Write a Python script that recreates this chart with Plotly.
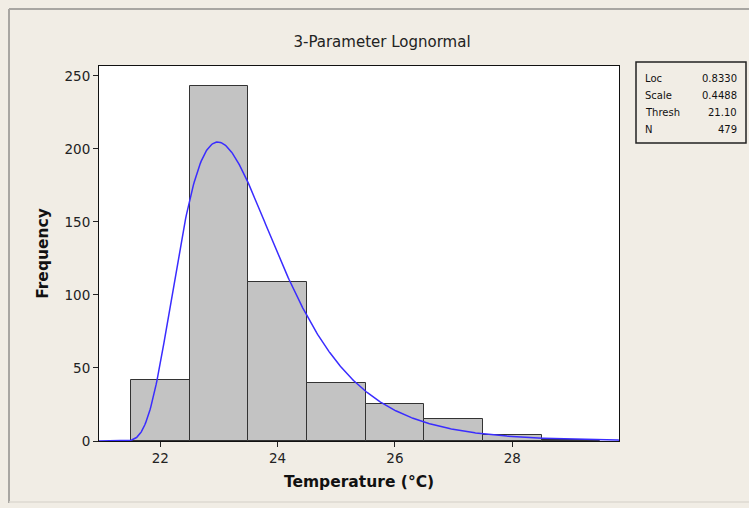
import numpy as np
import plotly.graph_objects as go

# ---- data ----
bin_centers = [22, 23, 24, 25, 26, 27, 28, 29]
frequencies = [42, 243, 109, 40, 25, 15, 4, 1]
bin_width = 1.0

fit_loc = 0.8330
fit_scale = 0.4488
fit_thresh = 21.10
n_obs = 479

stat_labels = ["Loc", "Scale", "Thresh", "N"]
stat_values = ["0.8330", "0.4488", "21.10", "479"]

x_ticks = [22, 24, 26, 28]
y_ticks = [0, 50, 100, 150, 200, 250]

# ---- fitted 3-parameter lognormal curve (from displayed parameters) ----
xs = np.linspace(20.95, 29.82, 600)
z = np.clip(xs - fit_thresh, 1e-12, None)
pdf = np.where(xs > fit_thresh,
               np.exp(-(np.log(z) - fit_loc) ** 2 / (2 * fit_scale ** 2))
               / (z * fit_scale * np.sqrt(2 * np.pi)), 0.0)
ys = pdf * n_obs * bin_width

BG = "#f1ede5"
FONT = "DejaVu Sans"

fig = go.Figure()
fig.add_trace(go.Bar(
    x=bin_centers, y=frequencies, width=bin_width,
    marker=dict(color="#c3c3c3", line=dict(color="#333333", width=1)),
    showlegend=False, hoverinfo="x+y"))
fig.add_trace(go.Scatter(
    x=xs, y=ys, mode="lines", line=dict(color="#3a2cff", width=1.5),
    showlegend=False))

# page coordinates helpers (plot area: x 99..619, y 66..441 px)
L, R, T, B = 99, 619, 66, 441
def px(xp):
    return (xp - L) / (R - L)
def py(yp):
    return (B - yp) / (B - T)

shapes = [
    # outer frame (left/top visible, bottom faint)
    dict(type="line", xref="paper", yref="paper",
         x0=px(9), x1=px(800), y0=py(9), y1=py(9),
         line=dict(color="#a8a6a2", width=2), layer="below"),
    dict(type="line", xref="paper", yref="paper",
         x0=px(9), x1=px(9), y0=py(9), y1=py(503),
         line=dict(color="#a8a6a2", width=2), layer="below"),
    dict(type="line", xref="paper", yref="paper",
         x0=px(9), x1=px(800), y0=py(502), y1=py(502),
         line=dict(color="#dcd8d0", width=1.5), layer="below"),
    # stats box
    dict(type="rect", xref="paper", yref="paper",
         x0=px(636), x1=px(746), y0=py(143), y1=py(62),
         line=dict(color="#222222", width=1.5), fillcolor=BG),
]

annotations = []
row_y = [78, 95, 112, 129]
for lab, val, yy in zip(stat_labels, stat_values, row_y):
    annotations.append(dict(xref="paper", yref="paper", x=px(643), y=py(yy),
                            text=lab, showarrow=False, xanchor="left", yanchor="middle",
                            font=dict(family=FONT, size=10, color="#111111")))
    annotations.append(dict(xref="paper", yref="paper", x=px(739), y=py(yy),
                            text=val, showarrow=False, xanchor="right", yanchor="middle",
                            font=dict(family=FONT, size=10, color="#111111")))

fig.update_layout(
    width=749, height=508,
    margin=dict(l=L, r=749 - R, t=T, b=508 - B, pad=0),
    paper_bgcolor=BG, plot_bgcolor="white",
    bargap=0,
    title=dict(text="3-Parameter Lognormal", x=382 / 749, xref="container",
               y=1 - 42 / 508, yref="container", xanchor="center", yanchor="middle",
               font=dict(family=FONT, size=15, color="#222222")),
    font=dict(family=FONT, size=13, color="#222222"),
    shapes=shapes, annotations=annotations,
    xaxis=dict(range=[20.955, 29.82], tickvals=x_ticks, ticks="outside", ticklen=5,
               tickcolor="#222222", showline=True, linecolor="#111111", linewidth=1,
               mirror=True, showgrid=False, zeroline=False,
               tickfont=dict(family=FONT, size=13.5, color="#222222"),
               title=dict(text="<b>Temperature (°C)</b>", standoff=10,
                          font=dict(family=FONT, size=15.5, color="#111111"))),
    yaxis=dict(range=[0, 256.8], tickvals=y_ticks, ticks="outside", ticklen=5,
               tickcolor="#222222", showline=True, linecolor="#111111", linewidth=1,
               mirror=True, showgrid=False, zeroline=False,
               tickfont=dict(family=FONT, size=13.5, color="#222222"),
               title=dict(text="<b>Frequency</b>", standoff=12,
                          font=dict(family=FONT, size=15.5, color="#111111"))),
)

fig.write_html("out.html")
